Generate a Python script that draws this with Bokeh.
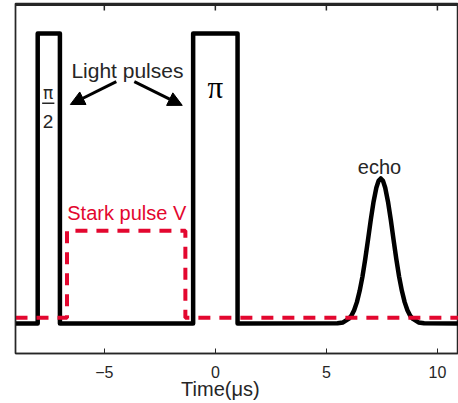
from bokeh.plotting import figure
from bokeh.models import (Range1d, LinearAxis, FixedTicker, Label, Arrow, NormalHead)
from bokeh.embed import file_html
from bokeh.resources import INLINE

# ---- data ----
pulse_x = [-9, -8, -8, -7, -7, -1, -1, 1, 1]
pulse_y = [0, 0, 1, 1, 0, 0, 1, 1, 0]

echo_x = [5.5, 5.75, 6.0, 6.125, 6.25, 6.375, 6.5, 6.625, 6.75, 6.875, 7.0, 7.125,
          7.25, 7.35, 7.45, 7.55, 7.65, 7.775, 7.9, 8.025, 8.15, 8.275, 8.4, 8.525,
          8.65, 8.775, 8.9, 9.15, 9.4, 11.0]
echo_y = [0.001, 0.004, 0.016, 0.027, 0.046, 0.074, 0.113, 0.162, 0.222, 0.289, 0.358, 0.42,
          0.468, 0.492, 0.5, 0.492, 0.468, 0.42, 0.358, 0.289, 0.222, 0.162, 0.113, 0.074,
          0.046, 0.027, 0.016, 0.004, 0.001, 0.0]

stark_x = [-9, -6.68, -6.68, -1.35, -1.35, 11]
stark_y = [0.02, 0.02, 0.32, 0.32, 0.02, 0.02]

x_ticks = [-5, 0, 5, 10]
x_tick_labels = {-5: "\u22125", 0: "0", 5: "5", 10: "10"}

frac_x = [-7.8, -7.25]
frac_y = [0.759, 0.759]

trace_x = pulse_x + echo_x
trace_y = pulse_y + echo_y

AX = "#262626"
RED = "#E3072F"
FONT = "Liberation Sans"

X0, X1 = -9, 10.95
Y0, Y1 = -0.103, 1.103
p = figure(width=458, height=403, output_backend="svg", toolbar_location=None,
           x_range=Range1d(X0, X1), y_range=Range1d(Y0, Y1),
           x_axis_location=None, y_axis_location=None,
           min_border_left=15, min_border_right=0, min_border_top=3, min_border_bottom=50)
p.outline_line_color = AX
p.outline_line_width = 1.5
p.xgrid.visible = False
p.ygrid.visible = False
p.background_fill_color = "white"
p.border_fill_color = "white"

# bottom axis
xa = LinearAxis(ticker=FixedTicker(ticks=x_ticks))
xa.major_label_overrides = x_tick_labels
xa.axis_line_color = AX
xa.axis_line_width = 1.3
xa.major_tick_line_color = AX
xa.major_tick_in = 5
xa.major_tick_out = 0
xa.minor_tick_in = 0
xa.minor_tick_out = 0
xa.major_label_text_font = FONT
xa.major_label_text_font_size = "16px"
xa.major_label_text_color = AX
xa.major_label_standoff = 12
xa.axis_label = "Time(\u03bcs)" + "\u00a0" * 6
xa.axis_label_text_font = FONT
xa.axis_label_text_font_size = "20px"
xa.axis_label_text_font_style = "normal"
xa.axis_label_text_color = AX
xa.axis_label_standoff = -3
p.add_layout(xa, "below")

# left axis: plain line only
ya = LinearAxis(ticker=FixedTicker(ticks=[]))
ya.axis_line_color = AX
ya.axis_line_width = 1.3
ya.major_tick_in = 0
ya.major_tick_out = 0
ya.minor_tick_in = 0
ya.minor_tick_out = 0
ya.major_label_standoff = 0
p.add_layout(ya, "left")

# top frame edge with inward ticks
px = 1 / 290.0
p.line([X0, X1], [Y1 - 1.5 * px, Y1 - 1.5 * px], line_color=AX, line_width=2)
p.segment(x0=x_ticks, y0=[Y1] * len(x_ticks), x1=x_ticks, y1=[Y1 - 7 * px] * len(x_ticks),
          line_color=AX, line_width=1.5)

# traces
p.line(trace_x, trace_y, line_color="black", line_width=4.5, line_join="round")
p.line(stark_x, stark_y, line_color=RED, line_width=4, line_dash="12 9")
p.line(frac_x, frac_y, line_color=AX, line_width=1.5)

# annotations
p.add_layout(Label(x=-3.96, y=0.873, text="Light pulses", text_align="center",
                   text_baseline="alphabetic", text_font=FONT, text_font_size="21px",
                   text_color=AX))
p.add_layout(Label(x=-3.99, y=0.381, text="Stark pulse V", text_align="center",
                   text_baseline="alphabetic", text_font=FONT, text_font_size="20px",
                   text_color=RED))
p.add_layout(Label(x=7.39, y=0.538, text="echo", text_align="center",
                   text_baseline="alphabetic", text_font=FONT, text_font_size="20px",
                   text_color=AX))
p.add_layout(Label(x=0, y=0.815, text="\u03c0", text_align="center",
                   text_baseline="alphabetic", text_font="Liberation Serif", text_font_size="31px",
                   text_color="black"))
p.add_layout(Label(x=-7.53, y=0.793, text="\u03c0", text_align="center",
                   text_baseline="alphabetic", text_font="DejaVu Sans", text_font_size="17px",
                   text_color=AX))
p.add_layout(Label(x=-7.53, y=0.698, text="2", text_align="center",
                   text_baseline="alphabetic", text_font=FONT, text_font_size="19px",
                   text_color=AX))

for (xs, ys, xe, ye) in [(-4.46, 0.834, -6.53, 0.755), (-3.65, 0.834, -1.49, 0.752)]:
    p.add_layout(Arrow(x_start=xs, y_start=ys, x_end=xe, y_end=ye, line_width=3,
                       line_color="black",
                       end=NormalHead(size=14, fill_color="black", line_color="black",
                                      line_width=1)))

open("out.html", "w").write(file_html(p, INLINE))
